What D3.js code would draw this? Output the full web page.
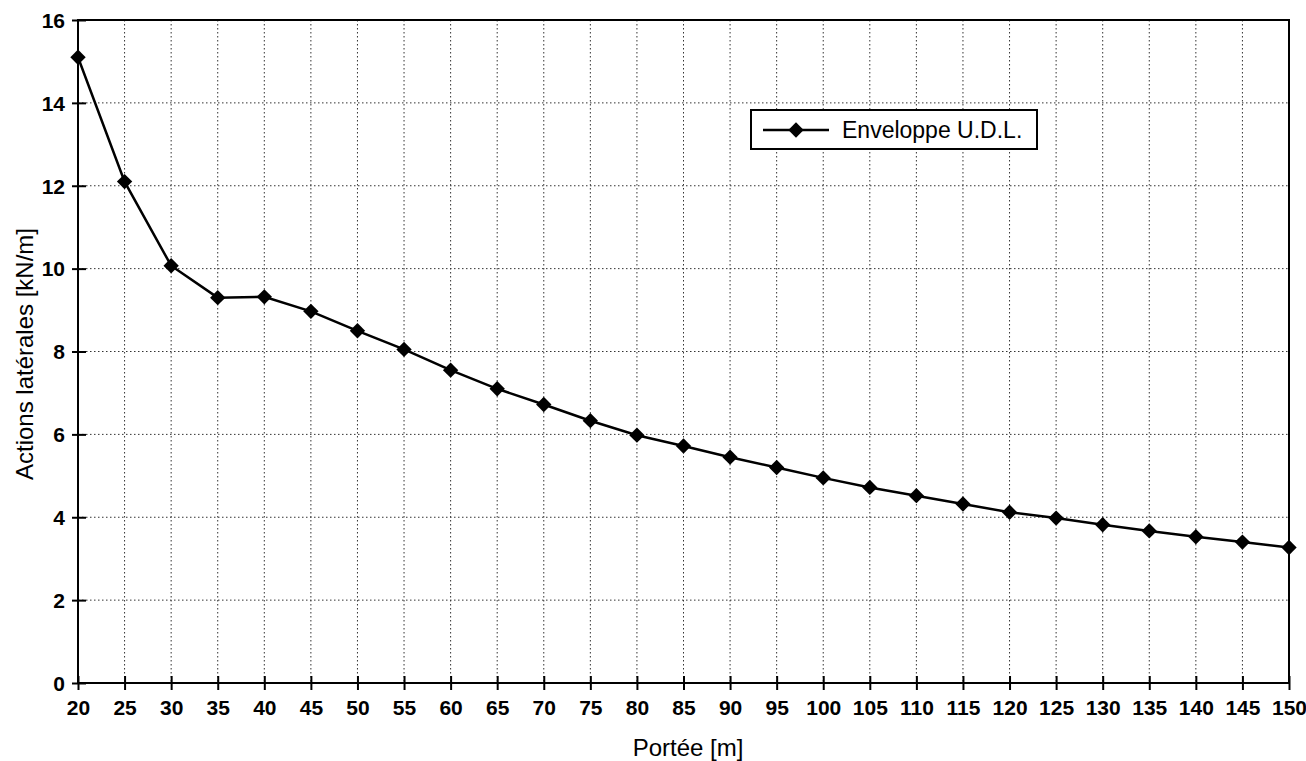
<!DOCTYPE html>
<html>
<head>
  <style>
    body, html { margin: 0; padding: 0; background: #fff; }
    svg { display: block; }
  </style>
</head>
<body>
  <svg id="svg" width="1306" height="761"></svg>
  <script src="https://d3js.org/d3.v7.min.js"></script>
  <script>
    const spans = [20, 25, 30, 35, 40, 45, 50, 55, 60, 65, 70, 75, 80, 85, 90, 95, 100, 105, 110, 115, 120, 125, 130, 135, 140, 145, 150]
    const envelope = [15.1, 12.1, 10.07, 9.3, 9.32, 8.97, 8.5, 8.05, 7.55, 7.1, 6.72, 6.33, 5.98, 5.72, 5.45, 5.2, 4.95, 4.72, 4.52, 4.32, 4.12, 3.98, 3.82, 3.67, 3.53, 3.4, 3.27]
    const yTicks = [0, 2, 4, 6, 8, 10, 12, 14, 16]
    const seriesName = "Enveloppe U.D.L."
    const xTitle = "Portée [m]"
    const yTitle = "Actions latérales [kN/m]"

    const plotL = 78, plotR = 1289, plotT = 20, plotB = 683
    const svg = d3.select("#svg")

    const x = d3.scaleLinear().domain([20, 150]).range([plotL, plotR])
    const y = d3.scaleLinear().domain([0, 16]).range([plotB, plotT])

    // grid
    const grid = svg.append("g").attr("stroke", "#333").attr("stroke-width", 1).attr("stroke-dasharray", "1.5,2.5")
    grid.selectAll(".gx").data(spans.slice(1, -1)).join("line")
      .attr("x1", d => x(d)).attr("x2", d => x(d)).attr("y1", plotT).attr("y2", plotB)
    grid.selectAll(".gy").data(yTicks.slice(1, -1)).join("line")
      .attr("x1", plotL).attr("x2", plotR).attr("y1", d => y(d)).attr("y2", d => y(d))

    // frame
    svg.append("rect").attr("x", plotL).attr("y", plotT).attr("width", plotR - plotL).attr("height", plotB - plotT)
      .attr("fill", "none").attr("stroke", "#000").attr("stroke-width", 2)

    const tickFont = "'Liberation Sans Narrow', 'Liberation Sans', Arial, sans-serif"
    const titleFont = "'Liberation Sans', Arial, Helvetica, sans-serif"

    const xAxis = d3.axisBottom(x).tickValues(spans).tickSizeOuter(0)
    const gx = svg.append("g").attr("transform", `translate(0,${plotB})`).call(xAxis)
    gx.select(".domain").remove()
    gx.selectAll("line").attr("stroke", "#000").attr("stroke-width", 2).attr("y1", -7).attr("y2", 7)
    gx.selectAll("text").attr("y", 32).attr("dy", null)
      .attr("font-family", tickFont).attr("font-size", 21).attr("font-weight", "bold").attr("fill", "#000")

    const yAxis = d3.axisLeft(y).tickValues(yTicks).tickSizeOuter(0)
    const gy = svg.append("g").attr("transform", `translate(${plotL},0)`).call(yAxis)
    gy.select(".domain").remove()
    gy.selectAll("line").attr("stroke", "#000").attr("stroke-width", 2).attr("x1", -6).attr("x2", 8)
    gy.selectAll("text").attr("x", -13).attr("dy", "0.35em")
      .attr("font-family", tickFont).attr("font-size", 21).attr("font-weight", "bold").attr("fill", "#000")

    // series
    const line = d3.line().x((d, i) => x(spans[i])).y(d => y(d))
    svg.append("path").attr("d", line(envelope)).attr("fill", "none").attr("stroke", "#000").attr("stroke-width", 2.5)

    const diamond = d3.symbol().type(d3.symbolDiamond2).size(150)
    svg.selectAll(".pt").data(envelope).join("path")
      .attr("transform", (d, i) => `translate(${x(spans[i])},${y(d)})`)
      .attr("d", diamond).attr("fill", "#000")

    // legend
    const lg = svg.append("g").attr("transform", "translate(751,110)")
    lg.append("rect").attr("width", 286).attr("height", 39).attr("fill", "#fff").attr("stroke", "#000").attr("stroke-width", 2)
    lg.append("line").attr("x1", 12).attr("x2", 78).attr("y1", 20).attr("y2", 20).attr("stroke", "#000").attr("stroke-width", 2.5)
    lg.append("path").attr("transform", "translate(45,20)").attr("d", diamond).attr("fill", "#000")
    lg.append("text").attr("x", 91).attr("y", 28).text(seriesName)
      .attr("font-family", titleFont).attr("font-size", 23).attr("fill", "#000")

    // axis titles
    svg.append("text").attr("x", 688).attr("y", 756).attr("text-anchor", "middle")
      .attr("font-family", titleFont).attr("font-size", 24).text(xTitle)
    svg.append("text").attr("transform", "translate(33,354) rotate(-90)").attr("text-anchor", "middle")
      .attr("font-family", titleFont).attr("font-size", 24).text(yTitle)
  </script>
</body>
</html>
